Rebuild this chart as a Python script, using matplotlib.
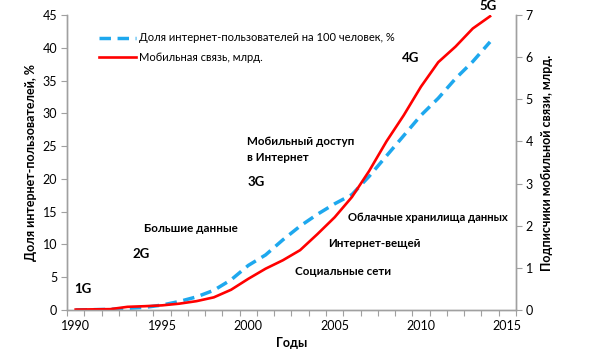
import matplotlib
matplotlib.use("Agg")
import matplotlib.pyplot as plt
from matplotlib.lines import Line2D

plt.rcParams['font.family'] = ['Lato', 'DejaVu Sans']

years = list(range(1990, 2015))
internet_share = [0.0, 0.05, 0.1, 0.25, 0.4, 0.75, 1.3, 2.0, 3.0, 4.6, 6.8, 8.4, 10.7,
                  12.8, 14.6, 16.2, 17.6, 20.4, 23.5, 26.6, 29.7, 32.3, 35.3, 37.9, 40.9]
mobile_bn = [0.01, 0.015, 0.02, 0.075, 0.09, 0.11, 0.15, 0.21, 0.30, 0.48, 0.74, 0.98, 1.18,
             1.42, 1.80, 2.20, 2.68, 3.30, 4.00, 4.62, 5.30, 5.88, 6.25, 6.68, 6.97]

left_ticks = [0, 5, 10, 15, 20, 25, 30, 35, 40, 45]
right_ticks = [0, 1, 2, 3, 4, 5, 6, 7]
year_labels = [1990, 1995, 2000, 2005, 2010, 2015]

# (text, year, left-axis value, font size)
annotations = [
    ("1G", 1989.9, 3.2, 9.5),
    ("2G", 1993.3, 8.5, 9.5),
    ("Большие данные", 1993.95, 12.5, 8.4),
    ("3G", 1999.95, 19.5, 9.5),
    ("Мобильный доступ\nв Интернет", 1999.9, 24.5, 8.4),
    ("Социальные сети", 2002.7, 5.85, 8.4),
    ("Интернет-вещей", 2004.65, 10.1, 8.4),
    ("Облачные хранилища данных", 2005.8, 14.1, 8.1),
    ("4G", 2008.9, 38.4, 9.5),
    ("5G", 2013.4, 46.3, 9.5),
]

blue = '#1EA8EE'
red = '#FF0000'
gray = '#A0A0A0'

fig = plt.figure(figsize=(5.91, 3.5), dpi=100)
ax = fig.add_axes([0.1134, 0.1143, 0.7596, 0.8428])
ax2 = ax.twinx()

dash = (3.3, 1.9)
ax.plot(years, internet_share, color=blue, lw=2.5, dashes=dash,
        label='Доля интернет-пользователей на 100 человек, %')
ax2.plot(years, mobile_bn, color=red, lw=1.9, label='Мобильная связь, млрд.')

ax.set_xlim(1989.5, 2015.5)
ax.set_ylim(0, 45)
ax2.set_ylim(0, 7)

ax.set_yticks(left_ticks)
ax2.set_yticks(right_ticks)
ax.set_xticks(year_labels)
ax.set_xticks([y + 0.5 for y in range(1989, 2016)], minor=True)
ax.tick_params(axis='x', which='major', length=0, pad=7)
ax.tick_params(axis='x', which='minor', length=4, color=gray, width=0.8)
ax.tick_params(axis='y', length=4, color=gray, width=0.8, labelsize=9, pad=3)
ax2.tick_params(axis='y', length=4, color=gray, width=0.8, labelsize=9, pad=3)
ax.tick_params(axis='x', labelsize=9)

for a in (ax, ax2):
    a.spines['top'].set_visible(False)
    for s in ('left', 'right', 'bottom'):
        a.spines[s].set_color(gray)
        a.spines[s].set_linewidth(1.0)

ax.set_ylabel('Доля интернет-пользователей, %', fontsize=9, fontweight='bold', labelpad=4)
ax2.set_ylabel('Подписчики мобильной связи, млрд.', fontsize=9, fontweight='bold', labelpad=6)
ax.set_xlabel('Годы', fontsize=9, fontweight='bold', labelpad=4)

for text, x, y, size in annotations:
    ax.text(x, y, text, fontsize=size, fontweight='bold', ha='left', va='center',
            linespacing=1.6, clip_on=False)

handles = [Line2D([0], [0], color=blue, lw=2.5, dashes=dash),
           Line2D([0], [0], color=red, lw=1.9)]
labels = ['Доля интернет-пользователей на 100 человек, %', 'Мобильная связь, млрд.']
ax.legend(handles, labels, loc='upper left', bbox_to_anchor=(0.05, 0.975), frameon=False,
          fontsize=8.0, handlelength=3.3, handletextpad=0.3, labelspacing=0.75)

fig.savefig('out.png', dpi=100)
